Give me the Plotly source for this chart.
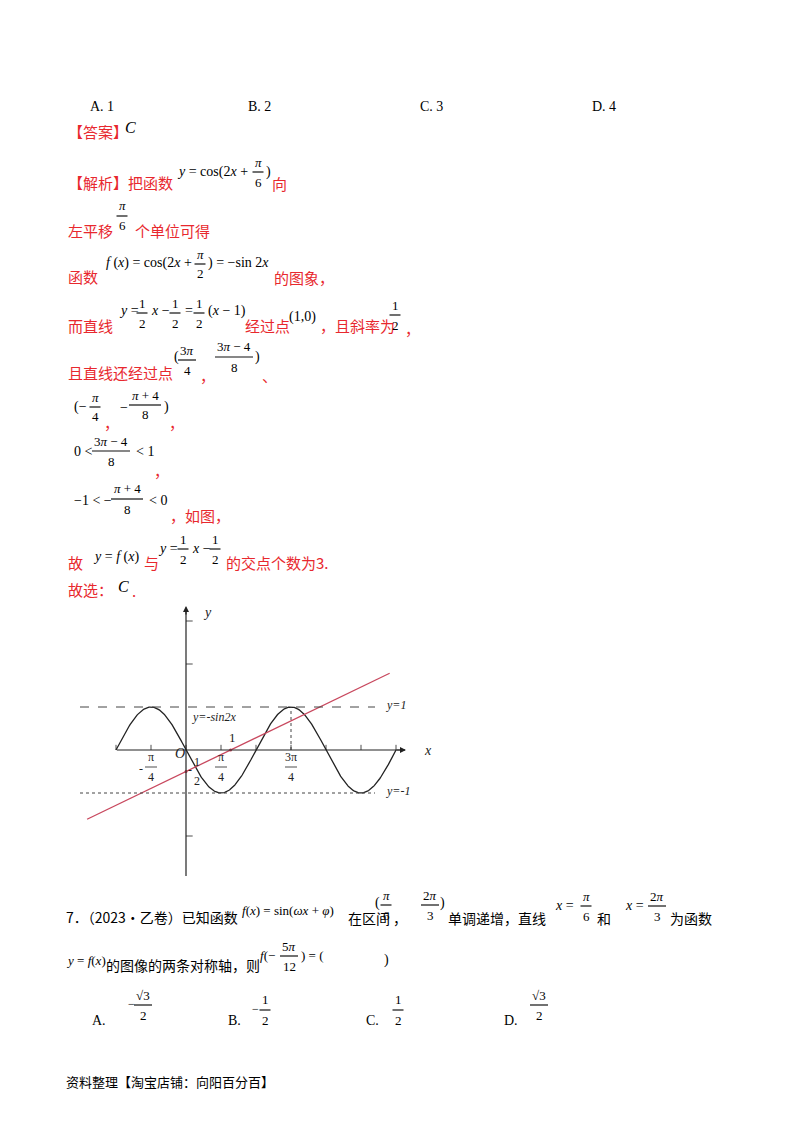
import re
import numpy as np
import plotly.graph_objects as go

# ---- data ----
curve_x_start, curve_x_end = -np.pi/2, 3*np.pi/2
line_x = [-2.22, 4.57]
line_slope, line_intercept = 0.5, -0.5
xtick_vals = [k*np.pi/4 for k in range(-2, 7)]
ytick_vals = [-2, 2, 3]
xlabels = [("-", "π", "4", -np.pi/4), ("", "π", "4", np.pi/4), ("", "3π", "4", 3*np.pi/4)]
options_top = ["A. 1", "B. 2", "C. 3", "D. 4"]

W, H = 800, 1132
RED = "#e8282e"
CJK = "Noto Sans CJK SC"
SERIF = "Liberation Serif"

fig = go.Figure()
ann = []
shapes = []

def T(x, y, s, size=15, color="black", font=CJK, anchor="left", italic=False):
    if italic:
        s = "<i>" + s + "</i>"
    ann.append(dict(x=x/W, y=1-y/H, xref="paper", yref="paper", text=s, showarrow=False,
                    xanchor=anchor, yanchor="middle", font=dict(size=size, color=color, family=font)))

def M(x, y, s, size=14):
    T(x, y, s, size=size, font=SERIF)

def plain(s):
    return re.sub(r"<[^>]+>", "", s)

def F(xc, yb, num, den, size=13, w=None):
    if w is None:
        n = max(len(plain(num).replace(" ", "")), len(plain(den)))
        w = n * 7 + 4
    T(xc, yb-10, num, size=size, font=SERIF, anchor="center")
    T(xc, yb+10, den, size=size, font=SERIF, anchor="center")
    shapes.append(dict(type="line", xref="paper", yref="paper", x0=(xc-w/2)/W, x1=(xc+w/2)/W,
                       y0=1-yb/H, y1=1-yb/H, layer="above", line=dict(color="#111", width=1.2)))

for s, x in zip(options_top, [88, 246, 418, 590]):
    M(x, 106, s)
T(66, 131, "【答案】", color=RED)
T(123, 127, "C", size=16, font=SERIF, italic=True)

T(66, 182, "【解析】把函数", color=RED)
M(175, 172, "<i>y</i> = cos(2<i>x</i> + ")
F(258, 172, "<i>π</i>", "6"); M(264, 172, ")")
T(270, 183, "向", color=RED)

T(66, 230, "左平移", color=RED)
F(122, 216, "<i>π</i>", "6")
T(133, 230, "个单位可得", color=RED)

T(66, 277, "函数", color=RED)
M(104, 263, "<i>f</i> (<i>x</i>) = cos(2<i>x</i> + ")
F(200, 264, "<i>π</i>", "2")
M(206, 263, ") = −sin 2<i>x</i>")
T(272, 278, "的图象，", color=RED)

T(66, 325, "而直线", color=RED)
M(117, 311, "<i>y</i> =")
F(142, 313, "1", "2"); M(149, 311, "<i>x</i> −")
F(175, 313, "1", "2"); M(183, 311, "=")
F(199, 313, "1", "2"); M(206, 311, "(<i>x</i> − 1)")
T(243, 325, "经过点", color=RED)
M(287, 317, "(1,0)")
T(318, 325, "，且斜率为", color=RED)
F(395, 315, "1", "2")
T(403, 328, "，", color=RED)

T(66, 372, "且直线还经过点", color=RED)
M(172, 357, "(")
F(187, 360, "3<i>π</i>", "4")
T(198, 375, "，", color=RED)
F(234, 357, "3<i>π</i> − 4", "8", w=38)
M(253, 357, ")")
T(260, 376, "、", color=RED)

M(72, 407, "(−")
F(95, 407, "<i>π</i>", "4")
T(102, 422, "，", color=RED)
M(118, 407, "−")
F(145, 405, "<i>π</i> + 4", "8", w=32)
M(162, 407, ")")
T(167, 422, "，", color=RED)

M(72, 452, "0 <")
F(111, 451, "3<i>π</i> − 4", "8", w=38)
M(134, 452, "< 1")
T(152, 470, "，", color=RED)

M(72, 500, "−1 < −")
F(127, 499, "<i>π</i> + 4", "8", w=32)
M(147, 500, "< 0")
T(168, 515, "，如图，", color=RED)

T(66, 562, "故", color=RED)
M(91, 557, "<i>y</i> = <i>f</i> (<i>x</i>)")
T(142, 562, "与", color=RED)
M(156, 548, "<i>y</i> =")
F(183, 549, "1", "2"); M(190, 548, "<i>x</i> −")
F(215, 549, "1", "2")
T(224, 562, "的交点个数为3.", color=RED)

T(66, 589, "故选：", color=RED)
T(116, 586, "C", size=16, font=SERIF, italic=True)
T(130, 590, ".", color=RED)

# question 7
T(64, 917, "7．（2023•乙卷）已知函数", size=14)
M(240, 911, "<i>f</i>(<i>x</i>) = sin(<i>ωx</i> + <i>φ</i>)", size=13)
T(346, 918, "在区间", size=14)
M(373, 903, "(")
F(386, 905, "<i>π</i>", "6")
T(391, 918, "，", size=14)
F(430, 905, "2<i>π</i>", "3"); M(438, 903, ")")
T(446, 918, "单调递增，直线", size=14)
M(553, 905, "<i>x</i> =")
F(586, 906, "<i>π</i>", "6")
T(595, 918, "和", size=14)
M(623, 905, "<i>x</i> =")
F(657, 906, "2<i>π</i>", "3")
T(668, 918, "为函数", size=14)

M(64, 960, "<i>y</i> = <i>f</i>(<i>x</i>)", size=13)
T(104, 965, "的图像的两条对称轴，则", size=14)
M(258, 955, "<i>f</i>(−", size=13)
F(289, 956, "5<i>π</i>", "12")
M(299, 955, ") = (", size=13)
M(382, 960, ")")

M(90, 1020, "A.")
M(126, 1004, "−", size=12); F(143, 1005, "√3", "2")
M(226, 1020, "B.")
M(250, 1009, "−", size=12); F(265, 1010, "1", "2")
M(364, 1020, "C.")
F(398, 1010, "1", "2")
M(502, 1020, "D.")
F(539, 1005, "√3", "2")

T(64, 1081, "资料整理【淘宝店铺：向阳百分百】", size=13)

# ---- chart (data coordinates) ----
PX = 35/(np.pi/4); PY = 43.0; OX, OY = 186, 750
def dx(px): return (px-OX)/PX
def dy(py): return (OY-py)/PY
x_range = [dx(80), dx(440)]
y_range = [dy(880), dy(600)]
dom_x = [80/W, 440/W]
dom_y = [1-880/H, 1-600/H]

xs = np.linspace(curve_x_start, curve_x_end, 400)
fig.add_trace(go.Scatter(x=xs, y=-np.sin(2*xs), mode="lines", line=dict(color="#222", width=1.3), hoverinfo="skip"))
fig.add_trace(go.Scatter(x=line_x, y=[line_slope*v+line_intercept for v in line_x], mode="lines",
                         line=dict(color="#c8485e", width=1.3), hoverinfo="skip"))
fig.add_trace(go.Scatter(x=[0, 1], y=[line_intercept, 0], mode="markers",
                         marker=dict(color="#c8485e", size=3), hoverinfo="skip"))

def DL(x0, y0, x1, y1, dash="solid", color="#222", width=1.2):
    shapes.append(dict(type="line", xref="x", yref="y", x0=x0, y0=y0, x1=x1, y1=y1,
                       line=dict(color=color, width=width, dash=dash)))

DL(dx(117), 0, dx(405), 0)
DL(0, dy(876), 0, dy(610))
DL(x_range[0], 1, dx(375), 1, dash="dash", color="#444", width=1)
DL(x_range[0], -1, dx(375), -1, dash="dot", color="#444", width=1)
DL(3*np.pi/4, 0, 3*np.pi/4, 1, dash="dot", color="#444", width=1)
for v in xtick_vals:
    DL(v, 0, v, 0.12, width=0.8)
for v in ytick_vals:
    DL(0, v, 0.15, v, width=0.8)
ann.append(dict(x=dx(406), y=0, ax=dx(395), ay=0, xref="x", yref="y", axref="x", ayref="y",
                text="", showarrow=True, arrowhead=2, arrowsize=1, arrowwidth=1.2, arrowcolor="#222"))
ann.append(dict(x=0, y=dy(606), ax=0, ay=dy(616), xref="x", yref="y", axref="x", ayref="y",
                text="", showarrow=True, arrowhead=2, arrowsize=1, arrowwidth=1.2, arrowcolor="#222"))

def CT(x, y, s, size=13, italic=False, anchor="center"):
    if italic:
        s = "<i>" + s + "</i>"
    ann.append(dict(x=x, y=y, xref="x", yref="y", text=s, showarrow=False, xanchor=anchor,
                    yanchor="middle", font=dict(size=size, color="#222", family=SERIF)))

CT(dx(207), dy(612), "y", 14, True)
CT(dx(428), dy(750), "x", 14, True)
CT(dx(384), dy(705), "y=1", 12, True, "left")
CT(dx(384), dy(791), "y=-1", 12, True, "left")
CT(dx(190), dy(717), "y=-sin2x", 12, True, "left")
CT(dx(232), dy(737), "1", 13)
CT(dx(180), dy(753), "O", 14, True)
for sign, num, den, v in xlabels:
    cx = OX + v*PX
    CT(dx(cx), dy(757), num, 12)
    CT(dx(cx), dy(777), den, 12)
    DL(dx(cx-6), dy(767), dx(cx+6), dy(767), width=0.8)
    if sign:
        CT(dx(cx-10), dy(769), sign, 12)
CT(dx(197), dy(762), "1", 12)
CT(dx(197), dy(781), "2", 12)
CT(dx(190), dy(770), "-", 12)

fig.update_layout(width=W, height=H, margin=dict(l=0, r=0, t=0, b=0), showlegend=False,
                  plot_bgcolor="white", paper_bgcolor="white", annotations=ann, shapes=shapes,
                  xaxis=dict(domain=dom_x, range=x_range, visible=False),
                  yaxis=dict(domain=dom_y, range=y_range, visible=False))
fig.write_html("out.html", config={"displayModeBar": False},
               post_script="document.body.style.margin='0';document.body.style.overflow='hidden';")
